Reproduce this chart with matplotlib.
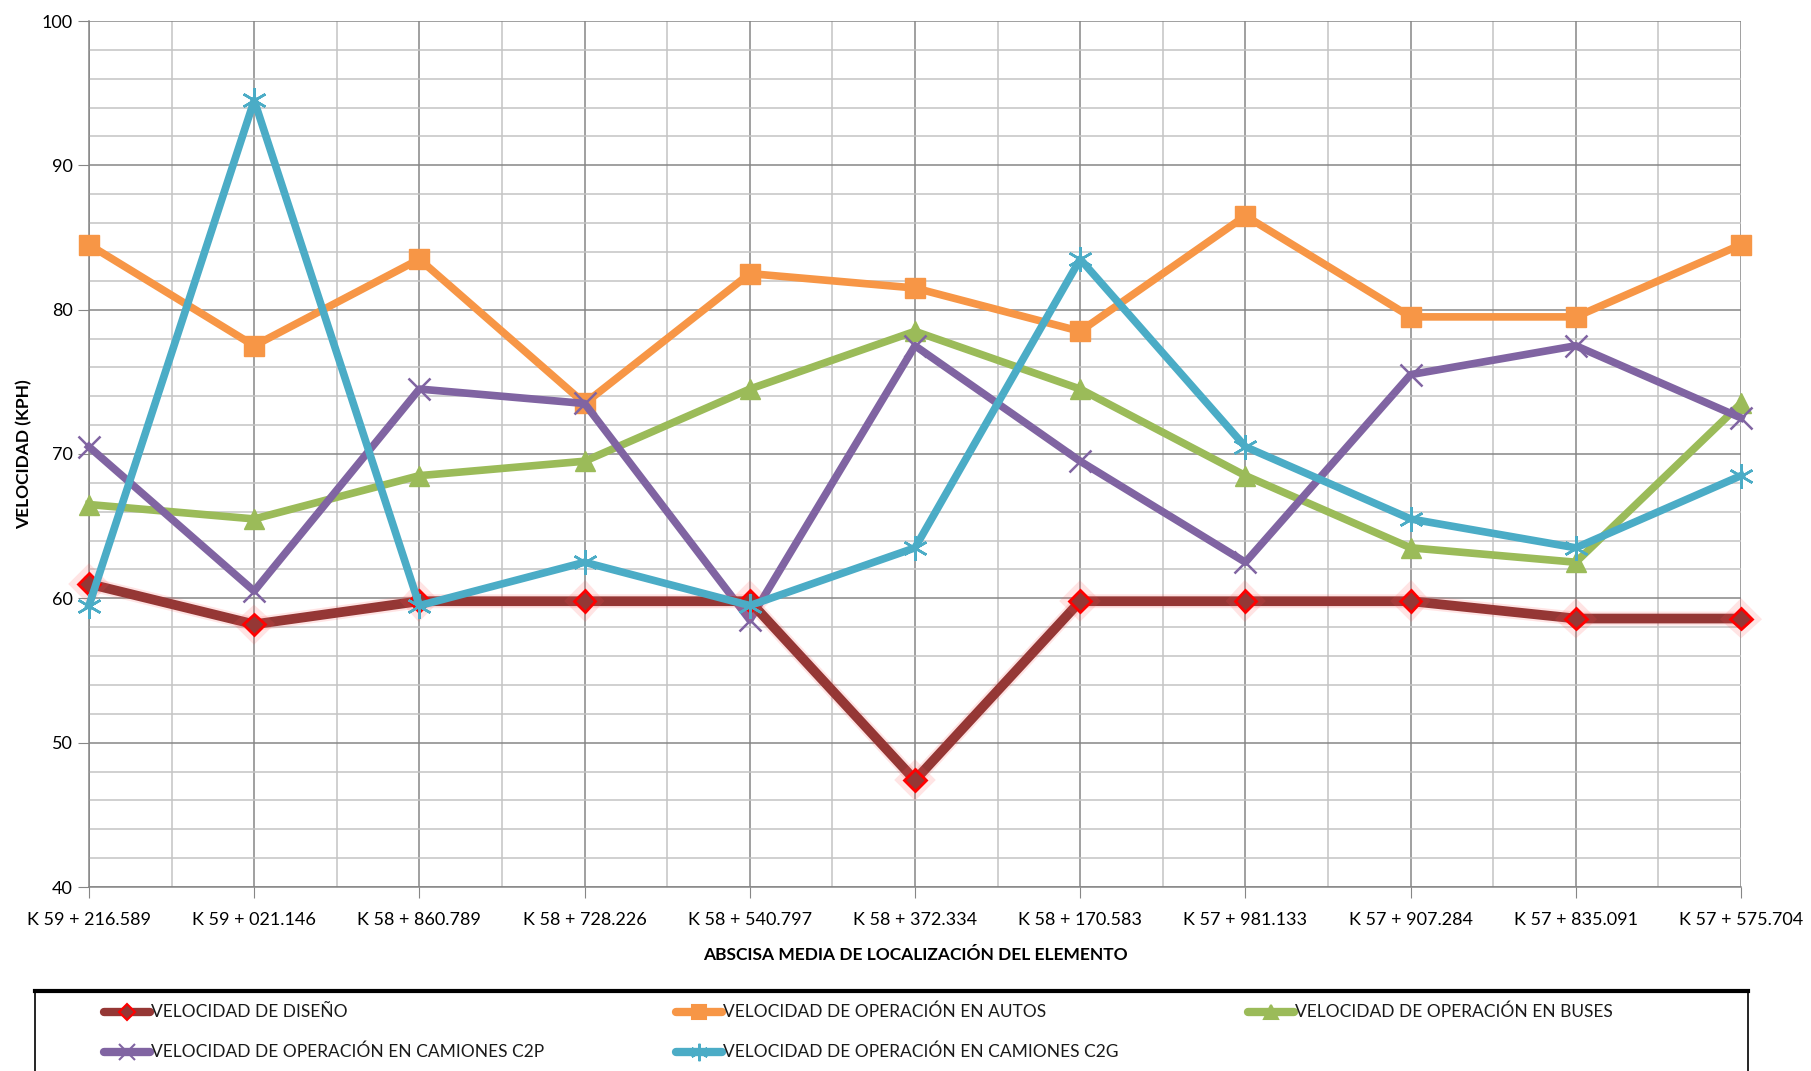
import matplotlib

matplotlib.use("Agg")
import matplotlib.pyplot as plt
import matplotlib.patheffects as pe
from matplotlib.patches import Rectangle
from matplotlib.lines import Line2D
from matplotlib.ticker import MultipleLocator

plt.rcParams["font.family"] = ["Lato", "DejaVu Sans"]

# Abscisas de los elementos analizados (sentido de recorrido)
ABSCISAS = [
    "K 59 + 216.589", "K 59 + 021.146", "K 58 + 860.789", "K 58 + 728.226",
    "K 58 + 540.797", "K 58 + 372.334", "K 58 + 170.583", "K 57 + 981.133",
    "K 57 + 907.284", "K 57 + 835.091", "K 57 + 575.704",
]

# Velocidades en km/h
V_DISENO = [61.0, 58.2, 59.8, 59.8, 59.8, 47.4, 59.8, 59.8, 59.8, 58.6, 58.6]
V_AUTOS = [84.5, 77.5, 83.5, 73.5, 82.5, 81.5, 78.5, 86.5, 79.5, 79.5, 84.5]
V_BUSES = [66.5, 65.5, 68.5, 69.5, 74.5, 78.5, 74.5, 68.5, 63.5, 62.5, 73.5]
V_C2P = [70.5, 60.5, 74.5, 73.5, 58.5, 77.5, 69.5, 62.5, 75.5, 77.5, 72.5]
V_C2G = [59.5, 94.5, 59.5, 62.5, 59.5, 63.5, 83.5, 70.5, 65.5, 63.5, 68.5]

NOMBRES = [
    "VELOCIDAD DE DISEÑO",
    "VELOCIDAD DE OPERACIÓN EN AUTOS",
    "VELOCIDAD DE OPERACIÓN EN BUSES",
    "VELOCIDAD DE OPERACIÓN EN CAMIONES C2P",
    "VELOCIDAD DE OPERACIÓN EN CAMIONES C2G",
]

# estilo de cada serie: color, marcador, tamaño, color de borde
ESTILOS = [
    ("#953735", "D", 11, "#ff0000"),
    ("#f79646", "s", 14, "#f79646"),
    ("#9bbb59", "^", 14, "#9bbb59"),
    ("#8064a2", "x", 16, "#8064a2"),
    ("#4bacc6", (6, 2, 0), 18, "#4bacc6"),
]
SERIES = [V_DISENO, V_AUTOS, V_BUSES, V_C2P, V_C2G]

W, H = 1811, 1071
fig = plt.figure(figsize=(W / 100, H / 100), dpi=100)
ax = fig.add_axes([89 / W, 1 - 887 / H, (1741 - 89) / W, (887 - 21) / H])

x = list(range(len(ABSCISAS)))

glow = [pe.Stroke(linewidth=10, foreground="#ff5050", alpha=0.15), pe.Normal()]
for k, (vals, (col, mk, ms, mec)) in enumerate(zip(SERIES, ESTILOS)):
    kw = dict(color=col, marker=mk, ms=ms, mec=mec, clip_on=False)
    if k == 0:
        ax.plot(x, vals, lw=7, mfc=col, mew=2, zorder=5, path_effects=glow, **kw)
    elif mk in ("x", (6, 2, 0)):
        ax.plot(x, vals, lw=5.5, mew=1.8, zorder=6 if k == 4 else 4, **kw)
    else:
        ax.plot(x, vals, lw=5.5, mfc=col, zorder=4, **kw)

ax.set_xlim(0, len(ABSCISAS) - 1)
ax.set_ylim(40, 100)
ax.yaxis.set_major_locator(MultipleLocator(10))
ax.yaxis.set_minor_locator(MultipleLocator(2))
ax.set_xticks(x)
ax.set_xticklabels(ABSCISAS, fontsize=13)
ax.set_xticks([i + 0.5 for i in x[:-1]], minor=True)
ax.tick_params(axis="y", which="major", labelsize=13, length=8, color="#868686")
ax.tick_params(axis="x", which="major", length=8, color="#868686", pad=10)
ax.tick_params(which="minor", length=0)

ax.grid(which="major", color="#868686", lw=1.1)
ax.grid(which="minor", color="#c4c4c4", lw=1.1)
ax.set_axisbelow(True)
for side in ["top", "right"]:
    ax.spines[side].set_visible(False)
for side in ["left", "bottom"]:
    ax.spines[side].set_color("#868686")
    ax.spines[side].set_linewidth(1.1)

ax.set_xlabel("ABSCISA MEDIA DE LOCALIZACIÓN DEL ELEMENTO", fontsize=12.5,
              fontweight="bold", labelpad=14)
ax.set_ylabel("VELOCIDAD (KPH)", fontsize=12.5, fontweight="bold", labelpad=7)

# Leyenda en recuadro bajo la gráfica, tres entradas por fila
col_x = [104, 676, 1248]
row_y = [1012, 1052]
for k, (nombre, (col, mk, ms, mec)) in enumerate(zip(NOMBRES, ESTILOS)):
    x0 = col_x[k % 3] / W
    x1 = (col_x[k % 3] + 46) / W
    y0 = 1 - row_y[k // 3] / H
    fig.add_artist(Line2D([x0, x1], [y0, y0], transform=fig.transFigure,
                          color=col, lw=6, solid_capstyle="round"))
    fig.add_artist(Line2D([(x0 + x1) / 2], [y0], transform=fig.transFigure,
                          color=col, marker=mk, ms=ms * 0.7, mfc=col, mec=mec,
                          mew=1.5, lw=0))
    fig.text(x1 + 1 / W, y0, nombre, ha="left", va="center", fontsize=12.5,
             color="#1a1a1a")

box_top = 1 - 991 / H
fig.patches.append(Rectangle((35 / W, -0.05), (1748 - 35) / W, box_top + 0.05,
                             transform=fig.transFigure, fill=False,
                             ec="black", lw=1.2))
fig.add_artist(Line2D([35 / W, 1748 / W], [box_top, box_top],
                      transform=fig.transFigure, color="black", lw=3))

fig.savefig("out.png", dpi=100)
